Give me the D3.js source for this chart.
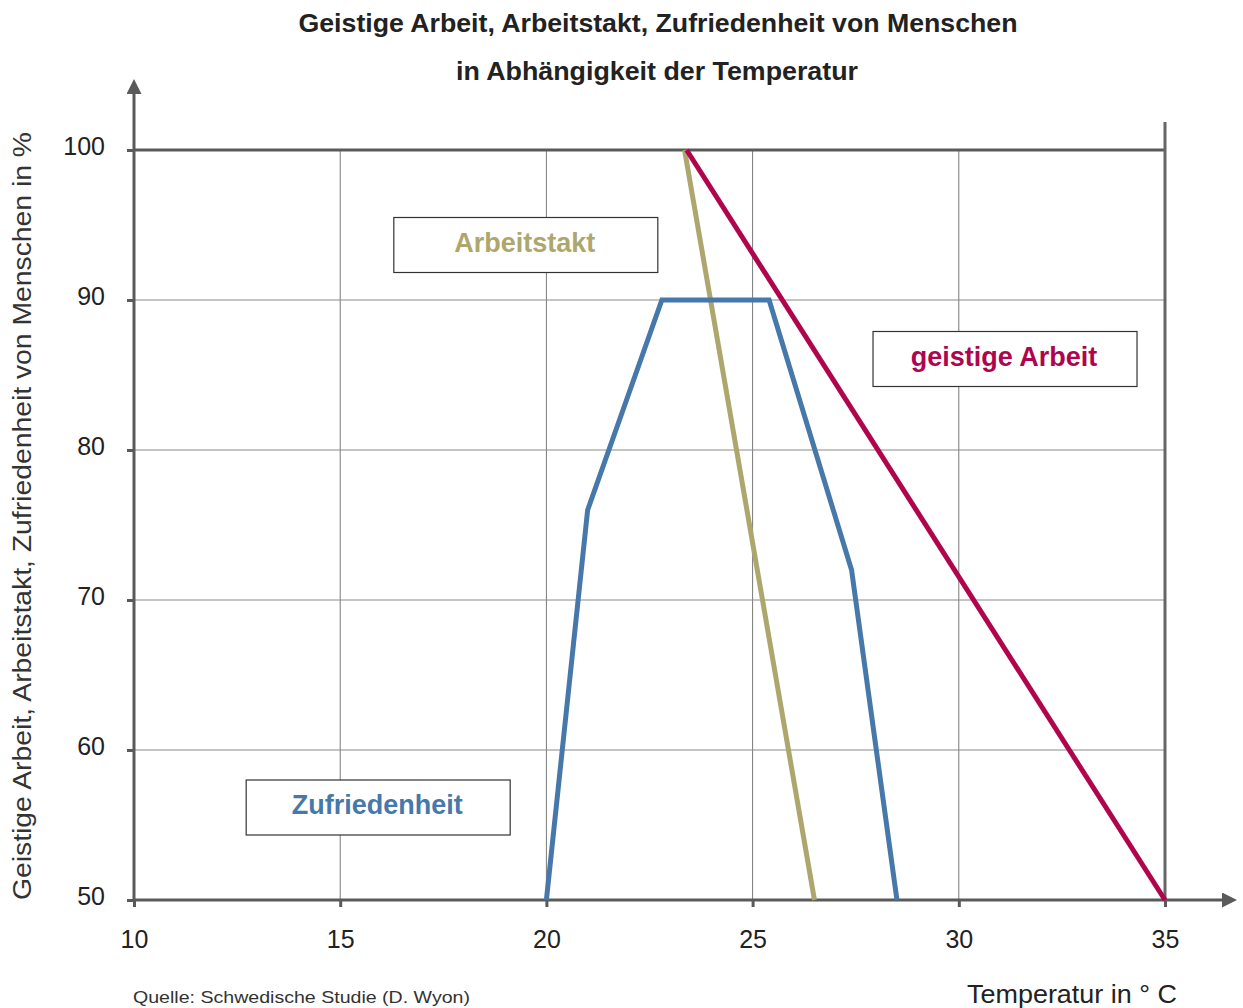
<!DOCTYPE html>
<html>
<head>
<meta charset="utf-8">
<script src="https://cdn.jsdelivr.net/npm/d3@7"></script>
<style>
  body { margin: 0; background: #FFFFFF; }
  text { font-family: "Liberation Sans", Arial, sans-serif; }
</style>
</head>
<body>
<svg width="1243" height="1008"></svg>
<script>
//--Data
const xTicks = [10, 15, 20, 25, 30, 35];
const yTicks = [50, 60, 70, 80, 90, 100];

const zufriedenheit = [[20, 50], [21, 76], [22.8, 90], [25.4, 90], [27.4, 72], [28.5, 50]];
const arbeitstakt = [[23.35, 100], [26.5, 50]];
const geistigeArbeit = [[23.4, 100], [35, 50]];

const seriesNames = ["Arbeitstakt", "geistige Arbeit", "Zufriedenheit"];
const seriesColors = ["#ADA76D", "#B0054D", "#4678AA"];
// label box anchors in data coords (top-left)
const labelPos = [[16.3, 95.5], [27.92, 87.9], [12.72, 58.0]];

//--Setup
const root = d3.select("svg");
const x = d3.scaleLinear().domain([10, 35]).range([134, 1165]);
const y = d3.scaleLinear().domain([50, 100]).range([900, 150]);

root.append("defs")
  .append("marker")
  .attr("id", "arrow")
  .attr("viewBox", "0 0 10 10")
  .attr("refX", 0).attr("refY", 5)
  .attr("markerWidth", 5).attr("markerHeight", 5)
  .attr("markerUnits", "strokeWidth")
  .attr("orient", "auto")
  .append("path")
  .attr("d", "M0,0L10,5L0,10Z")
  .attr("fill", "#5a5a5a");

//--Grid
root.append("g")
  .selectAll("line")
  .data(xTicks.slice(1, -1))
  .enter().append("line")
  .attr("x1", d => x(d)).attr("x2", d => x(d))
  .attr("y1", y(100)).attr("y2", y(50))
  .attr("stroke", "#7a7a7a").attr("stroke-width", 1);
root.append("g")
  .selectAll("line")
  .data(yTicks.slice(1, -1))
  .enter().append("line")
  .attr("x1", x(10)).attr("x2", x(35))
  .attr("y1", d => y(d)).attr("y2", d => y(d))
  .attr("stroke", "#8a8a8a").attr("stroke-width", 1);

// top and right frame
root.append("line")
  .attr("x1", x(10)).attr("x2", x(35))
  .attr("y1", y(100)).attr("y2", y(100))
  .attr("stroke", "#5a5a5a").attr("stroke-width", 3);
root.append("line")
  .attr("x1", x(35)).attr("x2", x(35))
  .attr("y1", 122).attr("y2", y(50))
  .attr("stroke", "#666666").attr("stroke-width", 3);

//--Axes
root.append("line")
  .attr("x1", x(10)).attr("x2", 1222)
  .attr("y1", y(50)).attr("y2", y(50))
  .attr("stroke", "#5a5a5a").attr("stroke-width", 3)
  .attr("marker-end", "url(#arrow)");
root.append("line")
  .attr("x1", x(10)).attr("x2", x(10))
  .attr("y1", y(50)).attr("y2", 94)
  .attr("stroke", "#5a5a5a").attr("stroke-width", 3)
  .attr("marker-end", "url(#arrow)");

const xAxis = root.append("g")
  .attr("transform", "translate(0," + y(50) + ")")
  .call(d3.axisBottom(x).tickValues(xTicks).tickSize(7).tickPadding(23));
const yAxis = root.append("g")
  .attr("transform", "translate(" + x(10) + ",0)")
  .call(d3.axisLeft(y).tickValues(yTicks).tickSize(7).tickPadding(22));
[xAxis, yAxis].forEach(a => {
  a.select(".domain").remove();
  a.selectAll(".tick line").attr("stroke", "#5a5a5a").attr("stroke-width", 3);
  a.selectAll(".tick text")
    .attr("fill", "#222222")
    .style("font-family", "'Liberation Sans', Arial, sans-serif")
    .style("font-size", "25px");
});
yAxis.selectAll(".tick text").attr("dy", "0.16em");

//--Lines
const line = d3.line().x(d => x(d[0])).y(d => y(d[1]));
const plotLines = [arbeitstakt, geistigeArbeit, zufriedenheit];
root.append("g")
  .selectAll("path")
  .data(plotLines)
  .enter().append("path")
  .attr("d", line)
  .attr("fill", "none")
  .attr("stroke", (d, i) => seriesColors[i])
  .attr("stroke-width", 5)
  .attr("stroke-linejoin", "miter");

//--Label boxes
const boxes = root.append("g")
  .selectAll("g")
  .data(seriesNames)
  .enter().append("g")
  .attr("transform", (d, i) => "translate(" + x(labelPos[i][0]) + "," + y(labelPos[i][1]) + ")");
boxes.append("rect")
  .attr("width", 264).attr("height", 55)
  .attr("fill", "#FFFFFF")
  .attr("stroke", "#333333").attr("stroke-width", 1.2);
boxes.append("text")
  .attr("x", 131).attr("y", 34)
  .attr("text-anchor", "middle")
  .attr("fill", (d, i) => seriesColors[i])
  .style("font-size", "27px")
  .style("font-weight", "bold")
  .text(d => d);

//--Titles
root.append("text")
  .attr("x", 658).attr("y", 32)
  .attr("text-anchor", "middle")
  .attr("fill", "#222222")
  .attr("textLength", 719).attr("lengthAdjust", "spacingAndGlyphs")
  .style("font-size", "25px").style("font-weight", "bold")
  .text("Geistige Arbeit, Arbeitstakt, Zufriedenheit von Menschen");
root.append("text")
  .attr("x", 657).attr("y", 80)
  .attr("text-anchor", "middle")
  .attr("fill", "#222222")
  .attr("textLength", 402).attr("lengthAdjust", "spacingAndGlyphs")
  .style("font-size", "25px").style("font-weight", "bold")
  .text("in Abhängigkeit der Temperatur");

root.append("text")
  .attr("transform", "translate(31,516)rotate(-90)")
  .attr("text-anchor", "middle")
  .attr("fill", "#333333")
  .attr("textLength", 768).attr("lengthAdjust", "spacingAndGlyphs")
  .style("font-size", "26px")
  .text("Geistige Arbeit, Arbeitstakt, Zufriedenheit von Menschen in %");

root.append("text")
  .attr("x", 1177).attr("y", 1003)
  .attr("text-anchor", "end")
  .attr("fill", "#222222")
  .attr("textLength", 210).attr("lengthAdjust", "spacingAndGlyphs")
  .style("font-size", "26px")
  .text("Temperatur in ° C");

root.append("text")
  .attr("x", 133).attr("y", 1003)
  .attr("fill", "#333333")
  .attr("textLength", 337).attr("lengthAdjust", "spacingAndGlyphs")
  .style("font-size", "17px")
  .text("Quelle: Schwedische Studie (D. Wyon)");
</script>
</body>
</html>
